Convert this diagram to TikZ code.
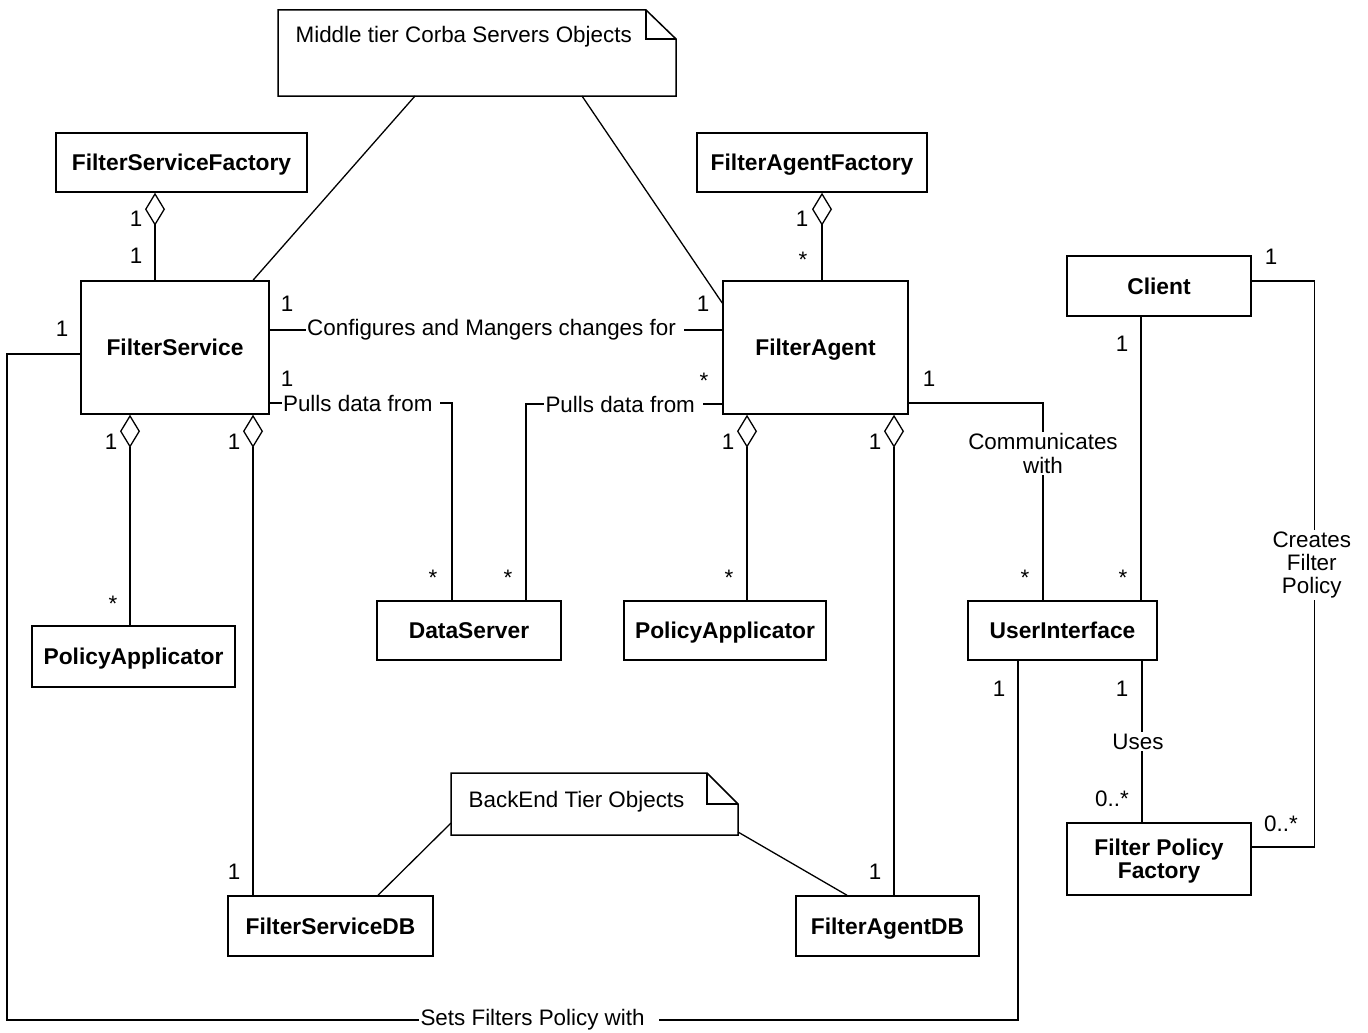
\documentclass[tikz,border=0pt]{standalone}
\usepackage{fontspec}
\setmainfont{Liberation Sans}
\usetikzlibrary{arrows.meta}

\begin{document}
\begin{tikzpicture}[x=1pt,y=-1pt,
  line width=1.3pt,
  every node/.style={font=\fontsize{22.4}{23.2}\selectfont},
  clsbase/.style={draw, line width=1.5pt, inner sep=0pt, align=center,
    font=\fontsize{22.8}{23.2}\selectfont\bfseries},
  cls/.style={clsbase, text height=16.4pt, text depth=0pt},
  clsmulti/.style={clsbase, text depth=0pt},
  notebox/.style={inner sep=0pt, outer sep=0pt},
  notetext/.style={anchor=base west, inner sep=0pt},
  lab/.style={fill=white, inner sep=1.5pt, align=center},
  mult/.style={anchor=base, inner sep=0pt},
  agg/.style={{Diamond[open,length=33pt,width=20pt]}-}
]
% canvas
\fill[white] (0,0) rectangle (1368,1033);
\useasboundingbox (0,0) rectangle (1368,1033);

% ---------- classes ----------
\node[cls, minimum width=251pt, minimum height=59pt] (fsf)    at (181.5,162.5) {FilterServiceFactory};
\node[cls, minimum width=188pt, minimum height=133pt] (fs)    at (175,347.5)   {FilterService};
\node[cls, minimum width=230pt, minimum height=59pt] (faf)    at (812,162.5)   {FilterAgentFactory};
\node[cls, minimum width=185pt, minimum height=133pt] (fa)    at (815.5,347.5) {FilterAgent};
\node[cls, minimum width=184pt, minimum height=60pt] (client) at (1159,286)     {Client};
\node[cls, minimum width=203pt, minimum height=61pt] (pa1)    at (133.5,656.5) {PolicyApplicator};
\node[cls, minimum width=184pt, minimum height=59pt] (ds)     at (469,630.5)   {DataServer};
\node[cls, minimum width=202pt, minimum height=59pt] (pa2)    at (725,630.5)   {PolicyApplicator};
\node[cls, minimum width=189pt, minimum height=59pt] (ui)     at (1062.5,630.5) {UserInterface};
\node[clsmulti, minimum width=184pt, minimum height=72pt] (fpf) at (1159,859)   {Filter Policy\\Factory};
\node[cls, minimum width=205pt, minimum height=60pt] (fsdb)   at (330.5,926)   {FilterServiceDB};
\node[cls, minimum width=183pt, minimum height=60pt] (fadb)   at (887.5,926)   {FilterAgentDB};

% ---------- notes ----------
\node[notebox, minimum width=398pt, minimum height=86pt] (mid) at (477,53) {};
\draw[line width=1.5pt, fill=white] (mid.north west) -- ([xshift=-30pt]mid.north east)
  -- ([yshift=-29pt]mid.north east) -- (mid.south east) -- (mid.south west) -- cycle;
\draw ([xshift=-30pt]mid.north east) |- ([yshift=-29pt]mid.north east);
\node[notetext] (midtxt) at (295,43) {Middle tier Corba Servers Objects};

\node[notebox, minimum width=287pt, minimum height=62pt] (back) at (594.5,804) {};
\draw[line width=1.5pt, fill=white] (back.north west) -- ([xshift=-31pt]back.north east)
  -- ([yshift=-31pt]back.north east) -- (back.south east) -- (back.south west) -- cycle;
\draw ([xshift=-31pt]back.north east) |- ([yshift=-31pt]back.north east);
\node[notetext] (backtxt) at (468,807) {BackEnd Tier Objects};

% ---------- note anchors ----------
\draw ([xshift=-62pt]mid.south) -- ([xshift=78pt]fs.north);
\draw ([xshift=105pt]mid.south) -- ([yshift=44.5pt]fa.west);
\draw ([yshift=-19pt]back.west) -- ([xshift=47.5pt]fsdb.north);
\draw ([yshift=-28pt]back.east) -- ([xshift=-40.5pt]fadb.north);

% ---------- aggregations ----------
\draw[agg] ([xshift=-26.5pt]fsf.south) -- ([xshift=-20pt]fs.north);
\draw[agg] ([xshift=10pt]faf.south) -- ([xshift=6.5pt]fa.north);
\draw[agg] ([xshift=-45pt]fs.south) -- ([xshift=-3.5pt]pa1.north);
\draw[agg] ([xshift=78pt]fs.south) -- ([xshift=-77.5pt]fsdb.north);
\draw[agg] ([xshift=-68.5pt]fa.south) -- ([xshift=22pt]pa2.north);
\draw[agg] ([xshift=78.5pt]fa.south) -- ([xshift=6.5pt]fadb.north);

% ---------- associations ----------
\draw ([yshift=17.5pt]fs.east) -- node[lab, pos=0.497] (lconf) {Configures and Mangers changes for\ } ([yshift=17.5pt]fa.west);
\draw ([yshift=-55.5pt]fs.east) -| node[lab, pos=0.25] (lpull1) {Pulls data from\ } ([xshift=-17pt]ds.north);
\draw ([yshift=-56.5pt]fa.west) -| node[lab, pos=0.252] (lpull2) {Pulls data from\ } ([xshift=57pt]ds.north);
\draw ([yshift=-55.5pt]fa.east) -| node[lab, pos=0.628] (lcomm) {Communicates\\with} ([xshift=-19.5pt]ui.north);
\draw ([xshift=-18pt]client.south) -- ([xshift=78.5pt]ui.north);
\draw ([yshift=5pt]client.east) -| node[lab, pos=0.751, xshift=-3pt] (lcreate) {Creates\\Filter\\Policy} ([xshift=63pt,yshift=12pt]fpf.east) -- ([yshift=12pt]fpf.east);
\draw ([xshift=79.5pt]ui.south) -- node[lab, pos=0.5, xshift=-4pt] (luses) {Uses} ([xshift=-17pt]fpf.north);
\coordinate (sw) at (7,1020);
\draw ([xshift=-44.5pt]ui.south) |- node[lab, pos=0.737] (lsets) {Sets Filters Policy with\ \ } (sw) |- ([yshift=-6.5pt]fs.west);

% ---------- multiplicities ----------
\node[mult] (m1)  at (136,226)  {1};
\node[mult] (m2)  at (136,263)  {1};
\node[mult] (m3)  at (802,226)  {1};
\node[mult] (m4)  at (803,267)  {*};
\node[mult] (m5)  at (287,311)  {1};
\node[mult] (m6)  at (703,311)  {1};
\node[mult] (m7)  at (62,336)   {1};
\node[mult] (m8)  at (287,386)  {1};
\node[mult] (m9)  at (704,388)  {*};
\node[mult] (m10) at (929,386)  {1};
\node[mult] (m11) at (1122,351) {1};
\node[mult] (m12) at (1271,264) {1};
\node[mult] (m13) at (111,449)  {1};
\node[mult] (m14) at (234,449)  {1};
\node[mult] (m15) at (728,449)  {1};
\node[mult] (m16) at (875,449)  {1};
\node[mult] (m17) at (113,611)  {*};
\node[mult] (m18) at (433,585)  {*};
\node[mult] (m19) at (508,585)  {*};
\node[mult] (m20) at (729,585)  {*};
\node[mult] (m21) at (1025,585) {*};
\node[mult] (m22) at (1123,585) {*};
\node[mult] (m23) at (999,696)  {1};
\node[mult] (m24) at (1122,696) {1};
\node[mult] (m25) at (1112,806) {0..*};
\node[mult] (m26) at (1281,831) {0..*};
\node[mult] (m27) at (234,879)  {1};
\node[mult] (m28) at (875,879)  {1};
\end{tikzpicture}
\end{document}
